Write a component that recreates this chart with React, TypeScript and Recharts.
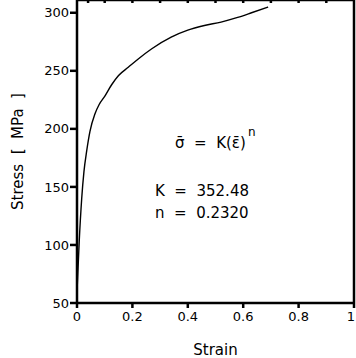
import { LineChart, Line, XAxis, YAxis, Label } from "recharts";

// strain values
const strain = [
  0.001, 0.008, 0.017, 0.025, 0.035, 0.047, 0.065, 0.08, 0.1, 0.125, 0.15, 0.185, 0.22,
  0.27, 0.34, 0.4, 0.46, 0.52, 0.58, 0.63, 0.69,
];
// stress in MPa
const stress = [
  65, 103, 140, 163, 181, 198, 213, 221, 228, 238, 246, 253, 260,
  269, 279, 285, 289, 292, 296, 300, 305,
];
const xTicks = [0, 0.2, 0.4, 0.6, 0.8, 1];
const yTicks = [50, 100, 150, 200, 250, 300];
const fitK = "352.48";
const fitN = "0.2320";

const data = strain.map((e, i) => ({ strain: e, stress: stress[i] }));

const FONT = "DejaVu Sans, sans-serif";
const SP = "\u00a0";

const fmtX = (v: number) => (v === 0 ? "0" : v === 1 ? "1" : v.toFixed(1));

// x tick: keep the last label inside the picture
const XTick = (props: any) => {
  const { x, y, payload } = props;
  const last = payload.value === 1;
  return (
    <text
      x={last ? x + 1 : x}
      y={y}
      dy="0.71em"
      textAnchor={last ? "end" : "middle"}
      fill="#000"
      fontSize={13}
      fontFamily={FONT}
    >
      {fmtX(payload.value)}
    </text>
  );
};

export default function App() {
  return (
    <div style={{ position: "absolute", left: 0, top: 0, background: "#fff" }}>
      <LineChart width={356} height={358} data={data} margin={{ top: 0, right: 0, left: 0, bottom: 0 }}>
        <XAxis
          xAxisId="bottom"
          dataKey="strain"
          type="number"
          domain={[0, 1]}
          ticks={xTicks}
          height={55}
          tickSize={5}
          tickMargin={4}
          tick={<XTick />}
          stroke="#000"
          strokeWidth={2.5}
          interval={0}
          allowDataOverflow
        >
          <Label value="Strain" position="insideBottom" offset={3} style={{ fill: "#000", fontSize: 15, fontFamily: FONT }} />
        </XAxis>
        <XAxis
          xAxisId="top"
          orientation="top"
          dataKey="strain"
          type="number"
          domain={[0, 1]}
          ticks={[0.04, 0.1, 0.2, 0.3, 0.4, 0.5, 0.6, 0.7, 0.8, 0.9]}
          tickFormatter={() => ""}
          height={7}
          tickSize={3}
          mirror
          stroke="#000"
          strokeWidth={2.5}
        />
        <YAxis
          yAxisId="left"
          type="number"
          domain={[50, 311]}
          ticks={yTicks}
          width={77}
          tickSize={7}
          tickMargin={1}
          tick={{ fill: "#000", fontSize: 13, fontFamily: FONT }}
          stroke="#000"
          strokeWidth={2.5}
          interval={0}
          allowDataOverflow
        >
          <Label
            value={`Stress${SP}${SP}[${SP}${SP}MPa${SP}${SP}]`}
            angle={-90}
            position="center"
            dx={-21}
            style={{ fill: "#000", fontSize: 15, fontFamily: FONT }}
          />
        </YAxis>
        <YAxis
          yAxisId="right"
          orientation="right"
          type="number"
          domain={[50, 311]}
          width={2}
          tick={false}
          tickLine={false}
          stroke="#000"
          strokeWidth={2.5}
        />
        <Line
          xAxisId="bottom"
          yAxisId="left"
          dataKey="stress"
          type="monotone"
          stroke="#000"
          strokeWidth={1.4}
          dot={false}
          isAnimationActive={false}
        />
        <g style={{ fontFamily: FONT, fontSize: 15, fill: "#000" }}>
          <text x={175} y={148}>{`σ\u0304${SP}${SP}=${SP}${SP}K(ε\u0304)`}</text>
          <text x={248} y={136} style={{ fontSize: 12 }}>n</text>
          <text x={155} y={196}>{`K${SP}${SP}=${SP}${SP}${fitK}`}</text>
          <text x={155} y={218}>{`n${SP}${SP}=${SP}${SP}${fitN}`}</text>
        </g>
      </LineChart>
    </div>
  );
}
